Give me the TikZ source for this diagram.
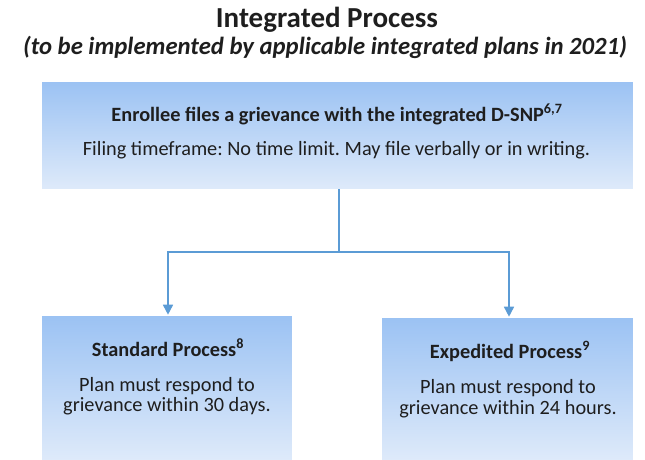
\documentclass[tikz,border=0pt]{standalone}
\usepackage{fontspec}
\setmainfont{Carlito}
\usetikzlibrary{arrows.meta}
\definecolor{boxtop}{RGB}{155,194,243}
\definecolor{boxbot}{RGB}{222,234,250}
\definecolor{linkc}{RGB}{91,155,213}
\definecolor{txt}{RGB}{30,30,30}
\tikzset{
  pbox/.style={rectangle, inner sep=0pt, top color=boxtop, bottom color=boxbot, draw=white, line width=0.6pt},
  link/.style={draw=linkc, line width=1.6pt, -{Triangle[width=10pt,length=10pt]}},
  plain/.style={draw=linkc, line width=1.6pt},
  lbl/.style={inner sep=0pt, text=txt, anchor=base},
  body/.style={lbl, font=\fontsize{20.3}{22}\selectfont},
  bodyb/.style={lbl, font=\fontsize{20.3}{22}\selectfont\bfseries}
}
\frenchspacing
\begin{document}
\begin{tikzpicture}[x=1pt,y=-1pt]
\useasboundingbox (0,0) rectangle (645,459);
\node[lbl, font=\fontsize{29}{31}\selectfont\bfseries] (title) at (327,27.5) {Integrated Process};
\node[lbl, font=\fontsize{24.7}{27}\selectfont\bfseries\itshape] (sub) at (325,54) {(to be implemented by applicable integrated plans in 2021)};
\node[pbox, minimum width=592pt, minimum height=108pt] (top) at (337,135) {};
\node[pbox, minimum width=251pt, minimum height=145pt] (left) at (166.5,387.5) {};
\node[pbox, minimum width=252pt, minimum height=143pt] (right) at (507,388.5) {};
\node[bodyb] (t1) at (337,121) {Enrollee files a grievance with the integrated D-SNP\textsuperscript{6,7}};
\node[body] (t2) at (336.5,155) {Filing timeframe: No time limit. May file verbally or in writing.};
\node[bodyb] (l1) at (168,356) {Standard Process\textsuperscript{8}};
\node[body] (l2) at (167,391) {Plan must respond to};
\node[body] (l3) at (167,411.7) {grievance within 30 days.};
\node[bodyb] (r1) at (510,358) {Expedited Process\textsuperscript{9}};
\node[body] (r2) at (508,393) {Plan must respond to};
\node[body] (r3) at (508,414) {grievance within 24 hours.};
\coordinate (j) at (339,252);
\draw[plain] (top.south -| j) -- (j);
\draw[link] (j) -| ([xshift=1.5pt]left.north);
\draw[link] (j) -| ([xshift=2pt]right.north);
\end{tikzpicture}
\end{document}
